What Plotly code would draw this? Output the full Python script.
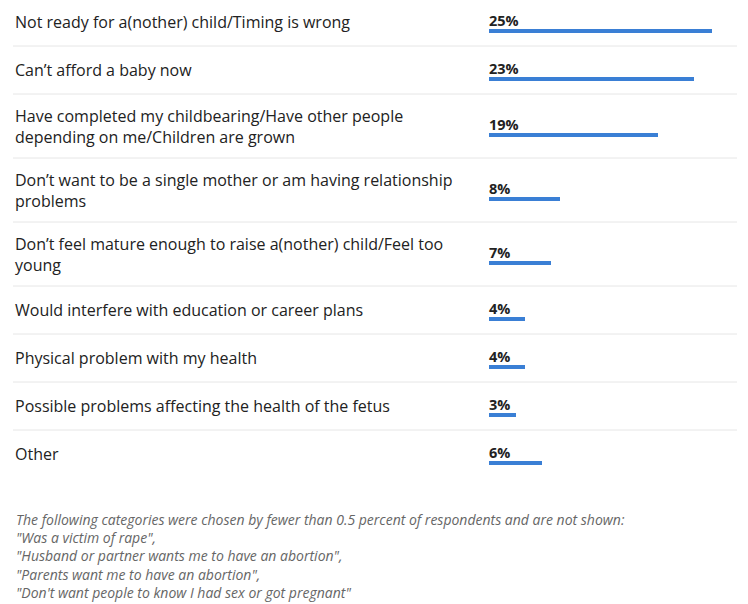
import plotly.graph_objects as go

reasons = [
    "Not ready for a(nother) child/Timing is wrong",
    "Can\u2019t afford a baby now",
    "Have completed my childbearing/Have other people<br>depending on me/Children are grown",
    "Don\u2019t want to be a single mother or am having relationship<br>problems",
    "Don\u2019t feel mature enough to raise a(nother) child/Feel too<br>young",
    "Would interfere with education or career plans",
    "Physical problem with my health",
    "Possible problems affecting the health of the fetus",
    "Other",
]
percents = [25, 23, 19, 8, 7, 4, 4, 3, 6]
pct_labels = ["25%", "23%", "19%", "8%", "7%", "4%", "4%", "3%", "6%"]

footnote_lines = [
    "The following categories were chosen by fewer than 0.5 percent of respondents and are not shown:",
    "\"Was a victim of rape\",",
    "\"Husband or partner wants me to have an abortion\",",
    "\"Parents want me to have an abortion\",",
    "\"Don't want people to know I had sex or got pregnant\"",
]

OFF = 8  # page body margin
W, H = 748 - OFF, 604 - OFF
TOP = -2 - OFF
ROW1 = 48
ROW2 = 64
PX_PER_PCT = 8.9
BAR_X0 = 489 - OFF

# row layout derived from number of label lines
centers, bounds = [], []
y = TOP
for r in reasons:
    h = ROW2 if "<br>" in r else ROW1
    centers.append(y + h / 2)
    y += h
    bounds.append(y)

bar_y = [c + 9 for c in centers]
pct_y = [c - 2 for c in centers]

fig = go.Figure()
fig.add_trace(go.Bar(
    x=percents, y=bar_y, base=0, orientation="h", width=3.6,
    marker=dict(color="#3a7fd5", line=dict(width=0)),
    hoverinfo="skip", showlegend=False,
))

annotations = []
for r, c in zip(reasons, centers):
    annotations.append(dict(
        x=(13 - OFF) / W, xref="paper", y=c, yref="y",
        text=r, showarrow=False,
        xanchor="left", yanchor="middle", align="left",
        font=dict(family="Open Sans", size=16, color="#222222"),
    ))
for t, py in zip(pct_labels, pct_y):
    annotations.append(dict(
        x=0, xref="x", y=py, yref="y", text="<b>" + t + "</b>", showarrow=False,
        xanchor="left", yanchor="middle", xshift=-2,
        font=dict(family="Open Sans", size=14.5, color="#222222"),
    ))
annotations.append(dict(
    x=(14 - OFF) / W, xref="paper", y=556 - OFF, yref="y",
    text="<br>".join("<i>" + line + "</i>" for line in footnote_lines),
    showarrow=False, xanchor="left", yanchor="middle", align="left",
    font=dict(family="Open Sans", size=14, color="#666666"),
))

shapes = []
for b in bounds[:-1]:
    shapes.append(dict(
        type="line", xref="paper", yref="y", x0=(13 - OFF) / W, x1=(737 - OFF) / W,
        y0=b, y1=b, line=dict(color="#e6e6e6", width=1),
    ))

fig.update_layout(
    width=W, height=H,
    margin=dict(l=0, r=0, t=0, b=0),
    paper_bgcolor="white", plot_bgcolor="white",
    xaxis=dict(domain=[BAR_X0 / W, 1], range=[0, (W - BAR_X0) / PX_PER_PCT],
               visible=False, fixedrange=True),
    yaxis=dict(domain=[0, 1], range=[H, 0], visible=False, fixedrange=True),
    annotations=annotations, shapes=shapes,
    bargap=0,
)

fig.write_html("out.html")
